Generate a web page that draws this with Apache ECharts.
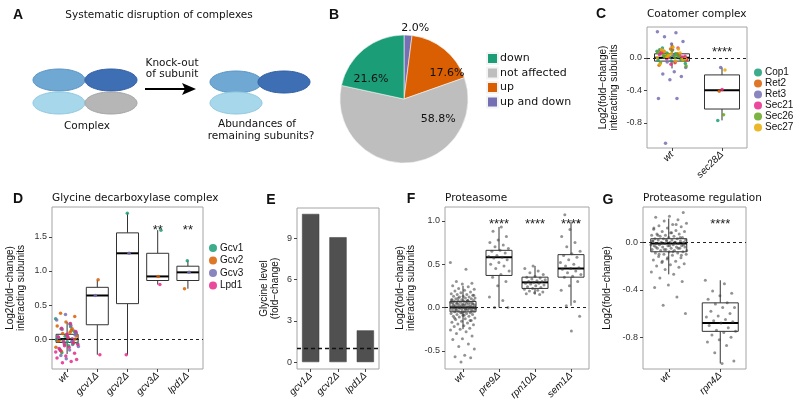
<!DOCTYPE html>
<html>
<head>
<meta charset="utf-8">
<script src="https://cdn.jsdelivr.net/npm/echarts@6/dist/echarts.min.js"></script>
<style>html,body{margin:0;padding:0;background:#fff}#fig{width:800px;height:408px}</style>
</head>
<body>
<div id="fig"></div>
<script>
// ---- B: pie
var pieNames = ['up and down', 'up', 'not affected', 'down'];
var pieValues = [2.0, 17.6, 58.8, 21.6];
var pieLegend = ['down', 'not affected', 'up', 'up and down'];

// ---- C: coatomer
var cCats = ['wt', 'sec28Δ'];
var cSubunits = ['Cop1', 'Ret2', 'Ret3', 'Sec21', 'Sec26', 'Sec27'];
var cBoxes = [[-0.13, -0.04, 0.0, 0.05, 0.18], [-0.77, -0.63, -0.40, -0.21, -0.12]];
var cWtCop1 = [0.08, 0.05, 0.02, -0.01, -0.04, 0.10, 0.0, 0.06, -0.07, 0.03, 0.12, -0.02, 0.01, -0.03, 0.04];
var cWtRet2 = [0.14, 0.09, 0.04, 0.01, -0.03, -0.06, 0.07, 0.0, 0.11, -0.09, 0.05, 0.02, -0.01];
var cWtRet3 = [0.32, 0.31, 0.26, 0.20, 0.17, 0.06, 0.02, -0.05, -0.12, -0.17, -0.20, -0.23, -0.27, -0.50, -0.50, -1.05, 0.0, 0.03];
var cWtSec21 = [0.10, 0.06, 0.03, 0.0, -0.02, -0.05, 0.08, 0.01, -0.08, 0.04, 0.12, -0.01, 0.02];
var cWtSec26 = [0.07, 0.04, 0.01, -0.03, 0.09, -0.06, 0.02, 0.05, -0.10, 0.0, 0.03, -0.02];
var cWtSec27 = [0.13, 0.10, 0.06, 0.03, 0.0, -0.04, 0.08, -0.02, 0.05, -0.08, 0.11, 0.01, -0.01];
var cKo = [-0.77, -0.41, -0.12, -0.39, -0.70, -0.15];   // sec28Δ, one per subunit
var cStars = [[1, 0.07, '****']];

// ---- D: glycine decarboxylase
var dCats = ['wt', 'gcv1Δ', 'gcv2Δ', 'gcv3Δ', 'lpd1Δ'];
var dSubunits = ['Gcv1', 'Gcv2', 'Gcv3', 'Lpd1'];
var dBoxes = [[-0.22, -0.05, 0.0, 0.07, 0.25], [-0.23, 0.21, 0.64, 0.76, 0.87], [-0.23, 0.52, 1.26, 1.56, 1.85],
              [0.80, 0.86, 0.92, 1.26, 1.60], [0.74, 0.86, 0.98, 1.07, 1.15]];
var dWtGcv1 = [0.30, 0.22, 0.15, 0.10, 0.06, 0.03, 0.0, -0.03, -0.06, -0.10, -0.15, 0.12, 0.04, -0.01, 0.18, -0.20, 0.08, -0.04, 0.02, -0.08];
var dWtGcv2 = [0.38, 0.33, 0.25, 0.19, 0.13, 0.08, 0.05, 0.02, -0.02, -0.05, -0.08, -0.12, 0.10, -0.18, 0.0, 0.06, -0.03, 0.15];
var dWtGcv3 = [0.36, 0.28, 0.20, 0.14, 0.09, 0.04, 0.01, -0.02, -0.07, -0.11, -0.16, -0.24, 0.06, -0.29, 0.03, -0.04];
var dWtLpd1 = [0.23, 0.16, 0.11, 0.07, 0.03, 0.0, -0.04, -0.08, -0.12, -0.17, -0.21, -0.25, -0.28, -0.33, -0.35, -0.30, 0.02, -0.14, -0.06, -0.10, -0.19];
// rows: gcv1Δ, gcv2Δ, gcv3Δ, lpd1Δ; columns: Gcv1, Gcv2, Gcv3, Lpd1
var dKo = [[null, 0.87, 0.64, -0.23], [1.85, null, 1.26, -0.23], [1.60, 0.92, null, 0.80], [1.15, 0.74, 0.98, null]];
var dStars = [[3, 1.60, '**'], [4, 1.60, '**']];

// ---- E: glycine level
var eCats = ['gcv1Δ', 'gcv2Δ', 'lpd1Δ'];
var eValues = [10.75, 9.06, 2.3];

// ---- F: proteasome
var fCats = ['wt', 'pre9Δ', 'rpn10Δ', 'sem1Δ'];
var fBoxes = [[-0.25, -0.05, 0.0, 0.07, 0.25], [0.0, 0.37, 0.58, 0.66, 0.93], [0.15, 0.22, 0.29, 0.35, 0.48], [0.02, 0.35, 0.45, 0.61, 0.99]];
var fWt = [0.52, 0.44, 0.30, 0.28, 0.27, 0.25, 0.24, 0.22, 0.21, 0.20, 0.19, 0.18, 0.17, 0.16, 0.15, 0.15, 0.14, 0.13, 0.13, 0.12,
  0.12, 0.11, 0.11, 0.10, 0.10, 0.09, 0.09, 0.08, 0.08, 0.08, 0.07, 0.07, 0.06, 0.06, 0.06, 0.05, 0.05, 0.05, 0.04, 0.04,
  0.04, 0.03, 0.03, 0.03, 0.02, 0.02, 0.02, 0.01, 0.01, 0.01, 0.0, 0.0, 0.0, -0.01, -0.01, -0.01, -0.02, -0.02, -0.02, -0.03,
  -0.03, -0.03, -0.04, -0.04, -0.05, -0.05, -0.06, -0.06, -0.07, -0.07, -0.08, -0.08, -0.09, -0.10, -0.10, -0.11, -0.12, -0.13, -0.14, -0.15,
  -0.16, -0.17, -0.18, -0.19, -0.20, -0.21, -0.22, -0.24, -0.25, -0.26, -0.28, -0.30, -0.33, -0.36, -0.37, -0.42, -0.45, -0.48, -0.55, -0.57, -0.58, -0.63,
  0.09, 0.07, 0.05, 0.04, 0.03, 0.02, 0.01, 0.0, -0.01, -0.02, -0.03, -0.04, -0.06, 0.06, 0.08, 0.11, 0.14, -0.09, -0.12, -0.15];
var fPre9 = [0.93, 0.88, 0.82, 0.78, 0.75, 0.72, 0.70, 0.68, 0.66, 0.65, 0.63, 0.60, 0.59, 0.58, 0.57, 0.55, 0.52, 0.50, 0.48, 0.45, 0.42, 0.38, 0.35, 0.30, 0.25, 0.12, 0.08, 0.0, 0.0];
var fRpn10 = [0.48, 0.45, 0.42, 0.40, 0.38, 0.36, 0.35, 0.34, 0.33, 0.32, 0.31, 0.30, 0.30, 0.29, 0.28, 0.28, 0.27, 0.26, 0.25, 0.24, 0.23, 0.22, 0.21, 0.20, 0.19, 0.18, 0.17, 0.16, 0.15];
var fSem1 = [1.07, 0.99, 0.90, 0.82, 0.75, 0.70, 0.65, 0.62, 0.60, 0.58, 0.55, 0.52, 0.50, 0.48, 0.46, 0.45, 0.44, 0.42, 0.40, 0.38, 0.36, 0.35, 0.30, 0.25, 0.20, 0.07, 0.02, -0.10, -0.27];
var fStars = [[1, 0.96, '****'], [2, 0.96, '****'], [3, 0.96, '****']];

// ---- G: proteasome regulation
var gCats = ['wt', 'rpn4Δ'];
var gBoxes = [[-0.27, -0.08, -0.01, 0.03, 0.20], [-1.02, -0.75, -0.68, -0.51, -0.32]];
var gWt = [0.25, 0.22, 0.21, 0.19, 0.18, 0.16, 0.15, 0.14, 0.13, 0.12, 0.11, 0.10, 0.09, 0.09, 0.08, 0.07, 0.07, 0.06, 0.06, 0.05,
  0.05, 0.04, 0.04, 0.03, 0.03, 0.03, 0.02, 0.02, 0.02, 0.01, 0.01, 0.01, 0.0, 0.0, 0.0, 0.0, -0.01, -0.01, -0.01, -0.02,
  -0.02, -0.02, -0.03, -0.03, -0.03, -0.04, -0.04, -0.04, -0.05, -0.05, -0.05, -0.06, -0.06, -0.07, -0.07, -0.08, -0.08, -0.09, -0.09, -0.10,
  -0.10, -0.11, -0.12, -0.13, -0.14, -0.15, -0.16, -0.17, -0.18, -0.19, -0.20, -0.21, -0.23, -0.25, -0.27, -0.30, -0.33, -0.36, -0.38, -0.46, -0.53, -0.60,
  0.08, 0.06, 0.04, 0.02, 0.01, 0.0, -0.01, -0.02, -0.03, -0.04, -0.05, -0.06, -0.07, -0.08, -0.10, -0.11, -0.13, 0.12, 0.15, -0.16];
var gRpn4 = [-0.32, -0.35, -0.41, -0.43, -0.45, -0.48, -0.51, -0.52, -0.55, -0.55, -0.58, -0.60, -0.62, -0.63, -0.65, -0.66, -0.67, -0.68,
  -0.70, -0.72, -0.74, -0.75, -0.76, -0.78, -0.80, -0.82, -0.84, -0.87, -0.93, -1.00, -1.02];
var gStars = [[1, 0.15, '****']];

var subColors = ['#1b9e77', '#d95f02', '#7570b3', '#e7298a', '#66a61e', '#e6ab02'];
var dColors = ['#1b9e77', '#d95f02', '#7570b3', '#e7298a'];

var chart = echarts.init(document.getElementById('fig'));

// panels: C, D, E, F, G
var panels = [
  {left: 647, top: 27, width: 100, height: 121, cats: cCats, min: -1.11, max: 0.38, ticks: [-0.8, -0.4, 0.0], digits: 1,
    name: 'Log2(fold\u2212change)\ninteracting subunits', nameGap: 27},
  {left: 52, top: 207, width: 151, height: 162, cats: dCats, min: -0.44, max: 1.94, ticks: [0.0, 0.5, 1.0, 1.5], digits: 1,
    name: 'Log2(fold\u2212change)\ninteracting subunits', nameGap: 25},
  {left: 297, top: 208, width: 82, height: 161, cats: eCats, min: -0.5, max: 11.18, ticks: [0, 3, 6, 9], digits: 0,
    name: 'Glycine level\n(fold\u2212change)', nameGap: 16},
  {left: 445, top: 207, width: 144, height: 162, cats: fCats, min: -0.71, max: 1.16, ticks: [-0.5, 0.0, 0.5, 1.0], digits: 1,
    name: 'Log2(fold\u2212change)\ninteracting subunits', nameGap: 28},
  {left: 643, top: 207, width: 103, height: 162, cats: gCats, min: -1.067, max: 0.297, ticks: [-0.8, -0.4, 0.0], digits: 1,
    name: 'Log2(fold\u2212change)', nameGap: 30}
];

var grids = [], xAxes = [], yAxes = [];
panels.forEach(function (p, g) {
  grids.push({left: p.left, top: p.top, width: p.width, height: p.height, show: true,
    borderColor: '#a4a4a4', borderWidth: 1, backgroundColor: 'transparent'});
  xAxes.push({type: 'category', gridIndex: g, data: p.cats, boundaryGap: true, position: 'bottom',
    axisLine: {show: false, onZero: false},
    axisTick: {show: true, alignWithLabel: true, length: 3, lineStyle: {color: '#444'}},
    axisLabel: {interval: 0, rotate: 45, fontStyle: 'italic', fontSize: 10, color: '#111', margin: 5},
    splitLine: {show: false}});
  yAxes.push({type: 'value', gridIndex: g, min: p.min, max: p.max, position: 'left',
    axisLine: {show: false, onZero: false},
    axisTick: {show: true, length: 3, customValues: p.ticks, lineStyle: {color: '#444'}},
    axisLabel: {customValues: p.ticks, fontSize: 9, color: '#333', margin: 5,
      formatter: (function (d) { return function (v) { return v.toFixed(d); }; })(p.digits)},
    splitLine: {show: false},
    name: p.name, nameLocation: 'middle', nameRotate: 90, nameGap: p.nameGap,
    nameTextStyle: {fontSize: 10, color: '#111', lineHeight: 11}});
});
// hidden value x-axes for jittered points (index 5..9)
panels.forEach(function (p, g) {
  xAxes.push({type: 'value', gridIndex: g, min: -0.5, max: p.cats.length - 0.5, show: false,
    axisLine: {onZero: false}});
});

function jit(i, s) { return ((i * 0.6180339887) % 1 - 0.5) * 2 * s; }
function pts(cat, vals, s, start) {
  return vals.map(function (v, i) { return [cat + jit(i + start, s), v]; });
}
function zeroLine(v) {
  return {silent: true, symbol: 'none', label: {show: false},
    lineStyle: {type: [3, 3], color: '#222', width: 1}, data: [{yAxis: v}]};
}
function boxSeries(g, boxes, w) {
  return {type: 'custom', xAxisIndex: g, yAxisIndex: g, z: 2,
    data: boxes.map(function (b, i) { return [i].concat(b); }),
    encode: {x: 0, y: [1, 2, 3, 4, 5]},
    renderItem: function (params, api) {
      var i = api.value(0);
      var cx = api.coord([i, api.value(3)])[0];
      var y = function (k) { return api.coord([i, api.value(k)])[1]; };
      var st = {stroke: '#333', lineWidth: 1, fill: null};
      return {type: 'group', children: [
        {type: 'line', shape: {x1: cx, y1: y(1), x2: cx, y2: y(2)}, style: st},
        {type: 'line', shape: {x1: cx, y1: y(4), x2: cx, y2: y(5)}, style: st},
        {type: 'rect', shape: {x: cx - w / 2, y: y(4), width: w, height: y(2) - y(4)},
          style: {fill: '#fff', stroke: '#333', lineWidth: 1}},
        {type: 'line', shape: {x1: cx - w / 2, y1: y(3), x2: cx + w / 2, y2: y(3)}, style: {stroke: '#000', lineWidth: 2}}
      ]};
    }};
}
function starSeries(g, stars) {
  return {type: 'custom', xAxisIndex: g, yAxisIndex: g, z: 6,
    data: stars.map(function (s) { return [s[0], s[1]]; }),
    renderItem: function (params, api) {
      var p = api.coord([api.value(0), api.value(1)]);
      return {type: 'text', x: p[0], y: p[1], style: {text: stars[params.dataIndex][2],
        fontSize: 13, fontFamily: 'Liberation Sans', fill: '#222',
        align: 'center', textAlign: 'center', verticalAlign: 'middle', textVerticalAlign: 'middle'}};
    }};
}
function dotSeries(name, g, data, color, size, opacity) {
  return {type: 'scatter', name: name, xAxisIndex: 5 + g, yAxisIndex: g, z: 4, data: data,
    symbol: 'circle', symbolSize: size, itemStyle: {color: color, opacity: opacity}};
}

var series = [];

// B pie
var pieOffsets = [[9, -36], [21, 1], [32, -15], [-11, 7]];
series.push({type: 'pie', center: [404, 99], radius: 64, startAngle: 90, clockwise: true,
  itemStyle: {borderColor: '#f4f4f4', borderWidth: 0.6},
  label: {show: true, position: 'inside', formatter: function (p) { return p.value.toFixed(1) + '%'; },
    fontSize: 11, fontFamily: 'DejaVu Sans', color: '#111'},
  labelLine: {show: false},
  data: pieNames.map(function (n, i) {
    return {name: n, value: pieValues[i], label: {offset: pieOffsets[i]},
      itemStyle: {color: ['#7570b3', '#d95f02', '#bebebe', '#1b9e77'][i]}};
  })});

// C
series.push(boxSeries(0, cBoxes, 35));
var cWt = [cWtCop1, cWtRet2, cWtRet3, cWtSec21, cWtSec26, cWtSec27];
cSubunits.forEach(function (s, k) {
  var data = pts(0, cWt[k], 0.3, k * 17).concat([[1 + jit(k * 5 + 2, 0.16), cKo[k]]]);
  var ser = dotSeries(s, 0, data, subColors[k], 3.5, 0.85);
  if (k === 0) ser.markLine = zeroLine(0);
  series.push(ser);
});
series.push(starSeries(0, cStars));

// D
series.push(boxSeries(1, dBoxes, 22));
var dWt = [dWtGcv1, dWtGcv2, dWtGcv3, dWtLpd1];
dSubunits.forEach(function (s, k) {
  var data = pts(0, dWt[k], 0.38, k * 23);
  dKo.forEach(function (row, r) {
    if (row[k] !== null) data.push([r + 1 + jit(r * 4 + k, 0.12), row[k]]);
  });
  var ser = dotSeries(s, 1, data, dColors[k], 3.5, 0.85);
  if (k === 0) ser.markLine = zeroLine(0);
  series.push(ser);
});
series.push(starSeries(1, dStars));

// E
series.push({type: 'bar', xAxisIndex: 2, yAxisIndex: 2, data: eValues, barWidth: '63%',
  itemStyle: {color: '#505050', borderColor: '#3c3c3c', borderWidth: 0.5},
  markLine: {silent: true, symbol: 'none', label: {show: false},
    lineStyle: {type: [4, 3], color: '#111', width: 1.3}, data: [{yAxis: 1}]}});

// F
series.push(boxSeries(3, fBoxes, 26));
var fAll = pts(0, fWt, 0.35, 0).concat(pts(1, fPre9, 0.3, 200), pts(2, fRpn10, 0.3, 300), pts(3, fSem1, 0.3, 400));
var fSer = dotSeries('F points', 3, fAll, '#3a3a3a', 3, 0.55);
fSer.markLine = zeroLine(0);
series.push(fSer);
series.push(starSeries(3, fStars));

// G
series.push(boxSeries(4, gBoxes, 36));
var gAll = pts(0, gWt, 0.35, 50).concat(pts(1, gRpn4, 0.3, 500));
var gSer = dotSeries('G points', 4, gAll, '#3a3a3a', 3, 0.55);
gSer.markLine = zeroLine(0);
series.push(gSer);
series.push(starSeries(4, gStars));

function txt(x, y, s, size, weight, family, align) {
  return {type: 'text', x: x, y: y, silent: true, style: {text: s, fontSize: size, fontWeight: weight || 'normal',
    fontFamily: family || 'DejaVu Sans', fill: '#111', align: align || 'center', textAlign: align || 'center',
    verticalAlign: 'middle', textVerticalAlign: 'middle'}};
}
function ell(cx, cy, fill, stroke) {
  return {type: 'ellipse', silent: true, shape: {cx: cx, cy: cy, rx: 26, ry: 11}, style: {fill: fill, stroke: stroke, lineWidth: 1}};
}
var blueMid = '#6ea8d3', blueDark = '#3e6fb5', blueLight = '#a7d7ea', grey = '#b6b6b6';

var graphic = [
  // panel A diagram
  txt(159, 15, 'Systematic disruption of complexes', 10.5),
  ell(59, 80, blueMid, '#5b95c4'), ell(111, 80, blueDark, '#325fa3'),
  ell(59, 103, blueLight, '#92c8df'), ell(111, 103, grey, '#a5a5a5'),
  txt(87, 126, 'Complex', 10.5),
  txt(172, 63, 'Knock-out', 10.5), txt(172, 74, 'of subunit', 10.5),
  {type: 'line', silent: true, shape: {x1: 145, y1: 89, x2: 186, y2: 89}, style: {stroke: '#000', lineWidth: 2}},
  {type: 'polygon', silent: true, shape: {points: [[182, 83], [196, 89], [182, 95], [185, 89]]}, style: {fill: '#000'}},
  ell(236, 82, blueMid, '#5b95c4'), ell(284, 82, blueDark, '#325fa3'),
  ell(236, 103, blueLight, '#92c8df'),
  txt(257, 124, 'Abundances of', 10.5), txt(261, 136, 'remaining subunits?', 10.5),
  // panel letters
  txt(18, 15, 'A', 14, 'bold', 'Liberation Sans'), txt(334, 15, 'B', 14, 'bold', 'Liberation Sans'),
  txt(601, 14, 'C', 14, 'bold', 'Liberation Sans'), txt(18, 199, 'D', 14, 'bold', 'Liberation Sans'),
  txt(271, 200, 'E', 14, 'bold', 'Liberation Sans'), txt(411, 199, 'F', 14, 'bold', 'Liberation Sans'),
  txt(608, 200, 'G', 14, 'bold', 'Liberation Sans'),
  // panel titles
  txt(647, 14, 'Coatomer complex', 10.5, 'normal', 'DejaVu Sans', 'left'),
  txt(52, 198, 'Glycine decarboxylase complex', 10.5, 'normal', 'DejaVu Sans', 'left'),
  txt(445, 198, 'Proteasome', 10.5, 'normal', 'DejaVu Sans', 'left'),
  txt(643, 198, 'Proteasome regulation', 10.5, 'normal', 'DejaVu Sans', 'left')
];

var option = {
  animation: false,
  backgroundColor: '#fff',
  textStyle: {fontFamily: 'Liberation Sans'},
  grid: grids,
  xAxis: xAxes,
  yAxis: yAxes,
  legend: [
    {data: pieLegend, orient: 'vertical', left: 486, top: 52, padding: 0, itemGap: 1.5, itemWidth: 11, itemHeight: 11,
      icon: 'rect', selectedMode: false, textStyle: {fontSize: 11, fontFamily: 'DejaVu Sans', color: '#111', padding: [0, 0, 0, -3]}},
    {data: cSubunits, orient: 'vertical', left: 754, top: 67, padding: 0, itemGap: 0, itemWidth: 8, itemHeight: 8,
      icon: 'circle', selectedMode: false, textStyle: {fontSize: 10, color: '#111', lineHeight: 11, padding: [0, 0, 0, -2]}},
    {data: dSubunits, orient: 'vertical', left: 209, top: 242, padding: 0, itemGap: 0.5, itemWidth: 8, itemHeight: 8,
      icon: 'circle', selectedMode: false, textStyle: {fontSize: 10, color: '#111', lineHeight: 12, padding: [0, 0, 0, -2]}}
  ],
  graphic: graphic,
  series: series
};
chart.setOption(option);
</script>
</body>
</html>
